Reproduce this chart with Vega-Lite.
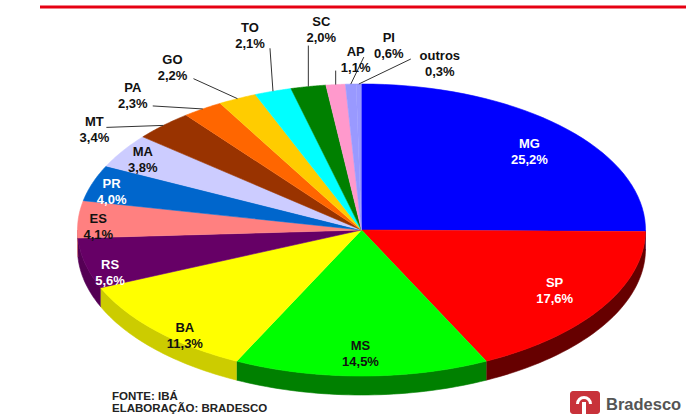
{"$schema":"https://vega.github.io/schema/vega-lite/v6.json","width":686,"height":414,"padding":0,"autosize":"none","background":"white","config":{"view":{"stroke":null},"text":{"font":"Liberation Sans"}},
"data":{"values":[{"uf":"MG","pct":25.2},{"uf":"SP","pct":17.6},{"uf":"MS","pct":14.5},{"uf":"BA","pct":11.3},{"uf":"RS","pct":5.6},{"uf":"ES","pct":4.1},{"uf":"PR","pct":4.0},{"uf":"MA","pct":3.8},{"uf":"MT","pct":3.4},{"uf":"PA","pct":2.3},{"uf":"GO","pct":2.2},{"uf":"TO","pct":2.1},{"uf":"SC","pct":2.0},{"uf":"AP","pct":1.1},{"uf":"PI","pct":0.6},{"uf":"outros","pct":0.3}]},
"transform":[{"joinaggregate":[{"op":"sum","field":"pct","as":"total"}]},{"window":[{"op":"sum","field":"pct","as":"cum"}],"sort":[{"field":"pct","order":"descending"}]},{"calculate":"2*PI*(datum.cum-datum.pct)/datum.total","as":"a"},{"calculate":"2*PI*datum.cum/datum.total","as":"b"},{"calculate":"(datum.a+datum.b)/2","as":"m"},{"calculate":"361.5+284*sin(datum.m)","as":"px"},{"calculate":"230-146*cos(datum.m)","as":"py"}],
"layer":[
{"transform":[{"calculate":"max(datum.a,PI/2)","as":"a2"},{"calculate":"min(datum.b,3*PI/2)","as":"b2"},{"filter":"datum.b2>datum.a2"},{"calculate":"sequence(0,82)","as":"k"},{"flatten":["k"]},{"calculate":"datum.k<=40?datum.a2+(datum.b2-datum.a2)*datum.k/40:datum.a2+(datum.b2-datum.a2)*(81-datum.k)/40","as":"t"},{"calculate":"361.5+284*sin(datum.t)","as":"vx"},{"calculate":"230-146*cos(datum.t)+(datum.k<=40?0:19)","as":"vy"}],
"mark":{"type":"line","strokeWidth":0.6},
"encoding":{"x":{"field":"vx","type":"quantitative","scale":{"domain":[0,686],"nice":false,"zero":false},"axis":null},"y":{"field":"vy","type":"quantitative","scale":{"domain":[0,414],"reverse":true,"nice":false,"zero":false},"axis":null},"order":{"field":"k","type":"quantitative"},
"fill":{"field":"uf","type":"nominal","legend":null,"scale":{"domain":["MG","SP","MS","BA","RS","ES"],"range":["#000080","#660000","#008000","#cccc00","#550055","#cc6666"]}},
"stroke":{"field":"uf","type":"nominal","legend":null,"scale":{"domain":["MG","SP","MS","BA","RS","ES"],"range":["#000080","#660000","#008000","#cccc00","#550055","#cc6666"]}}}},
{"transform":[{"calculate":"sequence(0,41)","as":"k"},{"flatten":["k"]},{"calculate":"datum.a+(datum.b-datum.a)*(datum.k-1)/39","as":"t"},{"calculate":"datum.k==0?361.5:361.5+284*sin(datum.t)","as":"vx"},{"calculate":"datum.k==0?230:230-146*cos(datum.t)","as":"vy"}],
"mark":{"type":"line","strokeWidth":0.6},
"encoding":{"x":{"field":"vx","type":"quantitative"},"y":{"field":"vy","type":"quantitative"},"order":{"field":"k","type":"quantitative"},
"fill":{"field":"uf","type":"nominal","legend":null,"scale":{"domain":["MG","SP","MS","BA","RS","ES","PR","MA","MT","PA","GO","TO","SC","AP","PI","outros"],"range":["#0000ff","#ff0000","#00ff00","#ffff00","#660066","#ff8080","#0066cc","#ccccff","#993300","#ff6600","#ffcc00","#00ffff","#008000","#ff99cc","#9999ff","#9999ff"]}},
"stroke":{"field":"uf","type":"nominal","legend":null,"scale":{"domain":["MG","SP","MS","BA","RS","ES","PR","MA","MT","PA","GO","TO","SC","AP","PI","outros"],"range":["#0000ff","#ff0000","#00ff00","#ffff00","#660066","#ff8080","#0066cc","#ccccff","#993300","#ff6600","#ffcc00","#00ffff","#008000","#ff99cc","#9999ff","#9999ff"]}}}},
{"transform":[{"filter":"indexof(['MT','PA','GO','TO','SC','AP','PI','outros'],datum.uf)>=0"},{"calculate":"{MT:[-57,2],PA:[-50,-3],GO:[-44,-20],TO:[-3,-43],SC:[0,-41],AP:[0,-14],PI:[13,-27],outros:[52,-25]}[datum.uf]","as":"e"},{"calculate":"datum.px+datum.e[0]","as":"ex"},{"calculate":"datum.py+datum.e[1]","as":"ey"}],
"mark":{"type":"rule","color":"#333333","strokeWidth":1},
"encoding":{"x":{"field":"px","type":"quantitative"},"y":{"field":"py","type":"quantitative"},"x2":{"field":"ex"},"y2":{"field":"ey"}}},
{"transform":[{"calculate":"{MG:[-34,24],SP:[-47,-18],MS:[-1,-23],BA:[29,4],RS:[25,9],ES:[20,7],PR:[19,8],MA:[20,8],MT:[-69,4],PA:[-70,-14],GO:[-65,-32],TO:[-23,-56],SC:[13,-58],AP:[20,-26],PI:[38,-39],outros:[81,-21]}[datum.uf]","as":"o"},{"calculate":"datum.px+datum.o[0]","as":"lx"},{"calculate":"datum.py+datum.o[1]","as":"ly"},{"calculate":"datum.uf+'\\n'+replace(format(datum.pct,'.1f'),'.',',')+'%'","as":"rotulo"}],
"mark":{"type":"text","fontWeight":"bold","fontSize":13,"lineBreak":"\n","lineHeight":16,"align":"center","baseline":"middle","dy":-7},
"encoding":{"x":{"field":"lx","type":"quantitative"},"y":{"field":"ly","type":"quantitative"},"text":{"field":"rotulo"},"color":{"condition":{"test":"indexof(['MG','SP','RS','PR'],datum.uf)>=0","value":"#ffffff"},"value":"#111111"}}},
{"data":{"values":[{"n":1}]},"mark":{"type":"rule","color":"#e60012","strokeWidth":3},"encoding":{"x":{"datum":40},"x2":{"datum":686},"y":{"datum":7}}},
{"data":{"values":[{"t":"FONTE: IBÁ","n":397},{"t":"ELABORAÇÃO: BRADESCO","n":409}]},"mark":{"type":"text","fontWeight":"bold","fontSize":11.5,"align":"left","baseline":"middle","color":"#222222"},"encoding":{"x":{"datum":112},"y":{"field":"n","type":"quantitative"},"text":{"field":"t"}}},
{"data":{"values":[{"n":1}]},"mark":{"type":"rect","color":"#c8323a","cornerRadius":3},"encoding":{"x":{"datum":570},"x2":{"datum":600},"y":{"datum":391},"y2":{"datum":414}}},
{"data":{"values":[{"n":1}]},"mark":{"type":"arc","color":"#ffffff","innerRadius":5,"outerRadius":8,"theta":-1.57,"theta2":1.57},"encoding":{"x":{"datum":584},"y":{"datum":404}}},
{"data":{"values":[{"n":1}]},"mark":{"type":"rule","color":"#ffffff","strokeWidth":4},"encoding":{"x":{"datum":584},"y":{"datum":402},"y2":{"datum":414}}},
{"data":{"values":[{"t":"Bradesco"}]},"mark":{"type":"text","fontWeight":"bold","fontSize":16.5,"align":"left","baseline":"middle","color":"#555555"},"encoding":{"x":{"datum":606},"y":{"datum":405},"text":{"field":"t"}}}
],"resolve":{"scale":{"fill":"independent","stroke":"independent"}}}
